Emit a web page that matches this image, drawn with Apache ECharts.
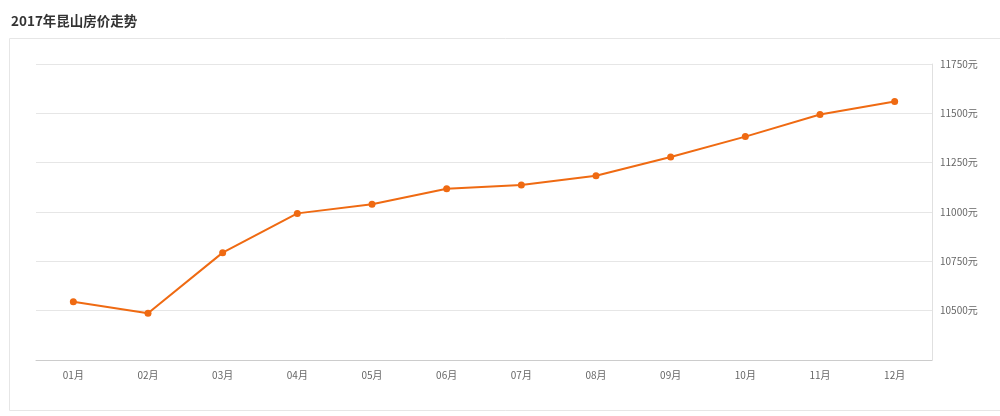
<!DOCTYPE html>
<html>
<head>
<meta charset="utf-8">
<script src="https://cdn.jsdelivr.net/npm/echarts@6/dist/echarts.min.js"></script>
<style>
html,body{margin:0;padding:0;background:#fff;}
#chart{width:1000px;height:416px;}
</style>
</head>
<body>
<div id="chart"></div>
<script>
const titleText = '2017年昆山房价走势';
const months = ['01月','02月','03月','04月','05月','06月','07月','08月','09月','10月','11月','12月'];
const prices = [10545, 10487, 10794, 10993, 11039, 11118, 11137, 11184, 11279, 11382, 11494, 11560];
const yMin = 10250, yMax = 11750, yStep = 250;

const chart = echarts.init(document.getElementById('chart'), null, {renderer:'canvas'});
chart.setOption({
  animation: false,
  backgroundColor: '#fff',
  title: {
    text: titleText, left: 6, top: 9,
    textStyle: {fontFamily: '"Noto Sans CJK SC", sans-serif', fontSize: 13.5, fontWeight: 'bold', color: '#333'}
  },
  graphic: [{
    type: 'rect', z: -1,
    shape: {x: 9.5, y: 38.5, width: 1010, height: 372},
    style: {fill: 'none', stroke: '#e6e6e6', lineWidth: 1}
  }],
  grid: {left: 36, right: 68, top: 64, bottom: 56},
  xAxis: {
    type: 'category', data: months, boundaryGap: true,
    axisLine: {lineStyle: {color: '#cccccc'}},
    axisTick: {alignWithLabel: true, length: 3, lineStyle: {color: '#cccccc'}},
    axisLabel: {color: '#666', fontSize: 10, margin: 10, fontFamily: '"Noto Sans CJK SC", sans-serif'},
    splitLine: {show: false}
  },
  yAxis: {
    type: 'value', position: 'right', min: yMin, max: yMax, interval: yStep,
    axisLine: {show: true, lineStyle: {color: '#e0e0e0'}},
    axisTick: {show: false},
    axisLabel: {color: '#666', fontSize: 10, margin: 8, showMinLabel: false,
      formatter: function (v) { return String(v) + '元'; },
      fontFamily: '"Noto Sans CJK SC", sans-serif'},
    splitLine: {lineStyle: {color: '#e6e6e6'}}
  },
  series: [{
    type: 'line', data: prices,
    symbol: 'circle', symbolSize: 7,
    lineStyle: {color: '#ef6a12', width: 2},
    itemStyle: {color: '#ef6a12'}
  }]
});
</script>
</body>
</html>
